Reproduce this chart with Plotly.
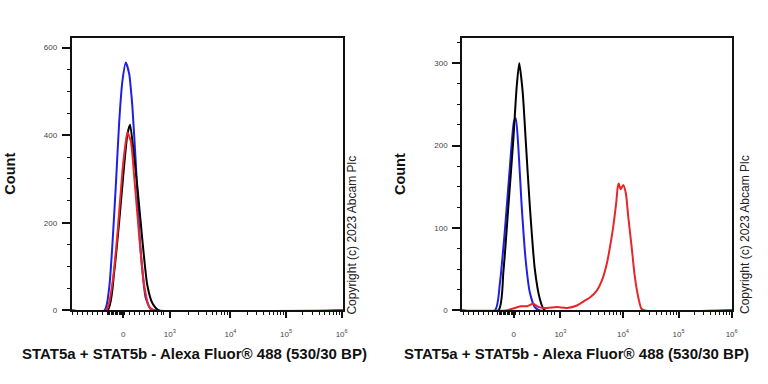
import plotly.graph_objects as go
import numpy as np

W, H = 768, 384

# ---------------- data (x in display channels 0..1024, y = count) -------------
# Left panel
left_blue_x = [0, 124, 142, 155, 168, 180, 192, 205, 218, 224, 230, 243, 255, 268, 280, 299, 318, 1024]
left_blue_y = [0, 0, 51, 157, 294, 431, 523, 566, 539, 505, 463, 333, 189, 88, 29, 3, 0, 0]
left_black_x = [0, 136, 161, 180, 199, 211, 221, 234, 249, 268, 286, 305, 330, 1024]
left_black_y = [0, 0, 88, 203, 333, 402, 424, 363, 280, 157, 58, 17, 0, 0]
left_red_x = [0, 130, 155, 174, 192, 205, 211, 224, 236, 255, 274, 293, 311, 1024]
left_red_y = [0, 0, 65, 180, 317, 386, 406, 386, 310, 173, 58, 8, 0, 0]

# Right panel
right_blue_x = [0, 125, 144, 163, 182, 197, 204, 214, 226, 242, 257, 276, 295, 1024]
right_blue_y = [0, 0, 34, 99, 176, 229, 233, 196, 128, 59, 22, 4, 0, 0]
right_black_x = [0, 138, 157, 176, 195, 207, 217, 230, 242, 257, 276, 295, 314, 1024]
right_black_y = [0, 0, 47, 127, 209, 270, 300, 265, 204, 127, 50, 14, 0, 0]
right_red_x = [0, 166, 191, 222, 247, 270, 291, 323, 360, 398, 436, 461, 486, 511, 530,
               549, 561, 573, 584, 590, 594, 601, 611, 621, 630, 643, 655, 668, 680, 693, 1024]
right_red_y = [0, 0, 2, 5, 5, 8, 4, 3, 4, 3, 6, 11, 16, 24, 36,
               57, 77, 101, 129, 149, 154, 147, 152, 142, 114, 77, 41, 16, 2, 0, 0]

tick_labels = ["0", "10<sup>3</sup>", "10<sup>4</sup>", "10<sup>5</sup>", "10<sup>6</sup>"]
left_ticks = [195, 371, 600, 810, 1020]
right_ticks = [196, 373, 610, 821, 1022]

x_title = "STAT5a + STAT5b - Alexa Fluor\u00ae 488 (530/30 BP)"
copyright_text = "Copyright (c) 2023 Abcam Plc"

BLUE = "#1f1fe6"
BLACK = "#000000"
RED = "#e8262a"
FONT = "Arial, Liberation Sans, sans-serif"


def minor_ticks(major):
    z = major[0]
    vals = []
    for off in [-191, -173, -154, -135, -116, -97, -79]:
        vals.append(z + off)
    for off in range(-60, 6, 5):
        vals.append(z + off)
    for off in [23, 41, 60, 79, 98, 113, 128, 143, 154]:
        vals.append(z + off)
    for a, b in zip(major[1:-1], major[2:]):
        for k in range(2, 10):
            vals.append(a + np.log10(k) * (b - a))
    return vals


fig = go.Figure()

def add(x, y, color, xa, ya):
    fig.add_trace(go.Scatter(x=x, y=y, mode="lines", xaxis=xa, yaxis=ya,
                             line=dict(color=color, width=2, shape="spline", smoothing=0.6),
                             showlegend=False, hoverinfo="skip"))

add(left_blue_x, left_blue_y, BLUE, "x", "y")
add(left_black_x, left_black_y, BLACK, "x", "y")
add(left_red_x, left_red_y, RED, "x", "y")
add(right_blue_x, right_blue_y, BLUE, "x2", "y2")
add(right_black_x, right_black_y, BLACK, "x2", "y2")
add(right_red_x, right_red_y, RED, "x2", "y2")

ydom = [1 - 314.5 / H, 1 - 38 / H]

common_x = dict(range=[0, 1024], showgrid=False, zeroline=False, showline=True,
                linecolor="#111", linewidth=1.5, mirror=True, ticks="outside",
                ticklen=6, tickwidth=2, tickcolor="#111", tickmode="array",
                ticktext=tick_labels, tickfont=dict(family=FONT, size=8, color="#444"),
                ticklabelstandoff=9, fixedrange=True)
common_y = dict(showgrid=False, zeroline=False, showline=True, linecolor="#111",
                linewidth=1.5, mirror=True, ticks="outside", ticklen=8, tickwidth=2,
                tickcolor="#111", tickfont=dict(family=FONT, size=8, color="#444"),
                ticklabelstandoff=3, fixedrange=True)

fig.update_layout(
    width=W, height=H, margin=dict(l=0, r=0, t=0, b=0),
    paper_bgcolor="white", plot_bgcolor="white",
    xaxis=dict(domain=[72 / W, 345 / W], tickvals=left_ticks, anchor="y",
               minor=dict(tickvals=minor_ticks(left_ticks), ticklen=3, tickwidth=1,
                          tickcolor="#111", ticks="outside"), **common_x),
    xaxis2=dict(domain=[465 / W, 737 / W], tickvals=right_ticks, anchor="y2",
                minor=dict(tickvals=minor_ticks(right_ticks), ticklen=3, tickwidth=1,
                           tickcolor="#111", ticks="outside"), **common_x),
    yaxis=dict(domain=ydom, range=[0, 623], tickmode="linear", tick0=0, dtick=200,
               anchor="x", minor=dict(dtick=50, ticklen=3, tickwidth=1, tickcolor="#111",
                                      ticks="outside"), **common_y),
    yaxis2=dict(domain=ydom, range=[0, 331], tickmode="linear", tick0=0, dtick=100,
                anchor="x2", minor=dict(dtick=25, ticklen=3, tickwidth=1, tickcolor="#111",
                                        ticks="outside"), **common_y),
)

ann = []
for cx in [10, 402]:
    ann.append(dict(x=cx / W, y=1 - 176 / H, xref="paper", yref="paper", text="<b>Count</b>",
                    textangle=-90, showarrow=False, font=dict(family=FONT, size=14.5, color="#111"),
                    xanchor="center", yanchor="middle"))
for cx in [196, 580]:
    ann.append(dict(x=cx / W, y=1 - 358 / H, xref="paper", yref="paper", text="<b>" + x_title + "</b>",
                    showarrow=False, font=dict(family=FONT, size=15, color="#111"),
                    xanchor="center", yanchor="middle"))
for cx in [354, 750]:
    ann.append(dict(x=cx / W, y=1 - 238 / H, xref="paper", yref="paper", text=copyright_text,
                    textangle=-90, showarrow=False, font=dict(family=FONT, size=12, color="#222"),
                    xanchor="center", yanchor="middle"))
fig.update_layout(annotations=ann)

fig.write_html("out.html")
